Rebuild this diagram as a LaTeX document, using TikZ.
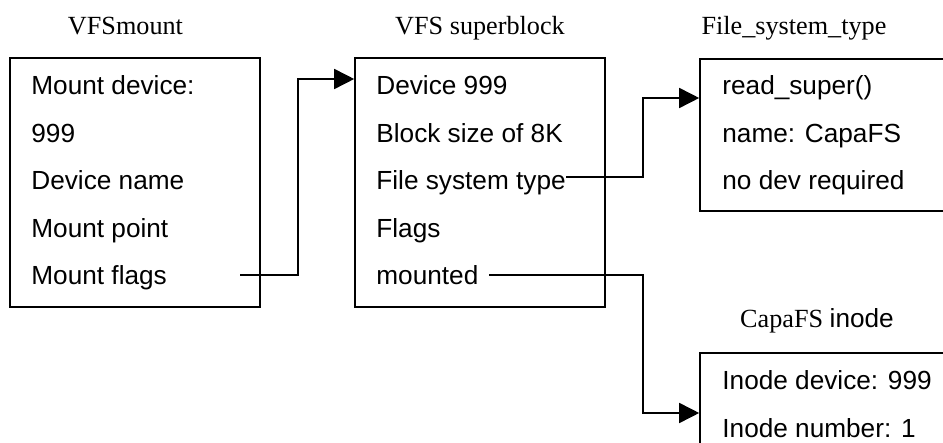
\documentclass[tikz,border=0pt]{standalone}
\usepackage{fontspec}
\setmainfont{Liberation Serif}
\setsansfont{Liberation Sans}
\usetikzlibrary{arrows.meta,positioning,calc}

\begin{document}
\begin{tikzpicture}[x=0.5pt, y=-0.5pt,
  box/.style={rectangle, draw, line width=0.8pt, minimum width=125pt, inner sep=0pt},
  field/.style={anchor=base west, inner sep=0pt, font=\sffamily\fontsize{13.1}{15}\selectfont},
  title/.style={anchor=base, inner sep=0pt, font=\rmfamily\fontsize{13.1}{15}\selectfont},
  link/.style={-{Triangle[length=10pt, width=10pt]}, line width=0.8pt}]
  \useasboundingbox (0,0) rectangle (943,443);
  \clip (0,0) rectangle (943,443);
  \fill[white] (0,0) rectangle (943,443);
  % the four records
  \node[box, minimum height=124.5pt] (mount) at (135,182.5) {};
  \node[box, minimum height=124.5pt] (super) at (480,182.5) {};
  \node[box, minimum height=76pt] (fstype) at (825,135) {};
  \node[box, minimum height=63.5pt] (inode) at (825,416.5) {};
  \node[title] (mounttitle) at (125.5,35) {VFSmount};
  \node[title] (supertitle) at (480,35) {VFS superblock};
  \node[title] (fsttitle) at (794,35) {File\_system\_type};
  \node[title] (inodetitle) at (817,328) {CapaFS {\sffamily inode}};
  % fields
  \node[field] (mdev) at (31,95) {Mount device:};
  \node[field] (mnum) at (31,142.5) {999};
  \node[field] (mname) at (31,190) {Device name};
  \node[field] (mpoint) at (31,237.5) {Mount point};
  \node[field] (mflags) at (31,285) {Mount flags};
  \node[field] (sdev) at (376,95) {Device 999};
  \node[field] (sbsize) at (376,142.5) {Block size of 8K};
  \node[field] (stype) at (376,190) {File system type};
  \node[field] (sflags) at (376,237.5) {Flags};
  \node[field] (smounted) at (376,285) {mounted};
  \node[field] (fread) at (722,95) {read\_super()};
  \node[field] (fname) at (722,142.5) {name: CapaFS};
  \node[field] (fnodev) at (722,190) {no dev required};
  \node[field] (idev) at (722,390) {Inode device: 999};
  \node[field] (inum) at (722,437.5) {Inode number: 1};
  % pointers
  \coordinate (mflagsout) at (240,275);
  \coordinate (superin) at (super.west |- 0,79);
  \coordinate (stypeout) at (stype.base east |- 0,177);
  \coordinate (fstypein) at (fstype.west |- 0,98);
  \coordinate (mountedout) at (489,275);
  \coordinate (inodein) at (inode.west |- 0,413);
  \draw[link] (mflagsout) -- ++(58,0) |- (superin);
  \draw[link] (stypeout) -- ++(77,0) |- (fstypein);
  \draw[link] (mountedout) -- ++(154,0) |- (inodein);
\end{tikzpicture}
\end{document}
